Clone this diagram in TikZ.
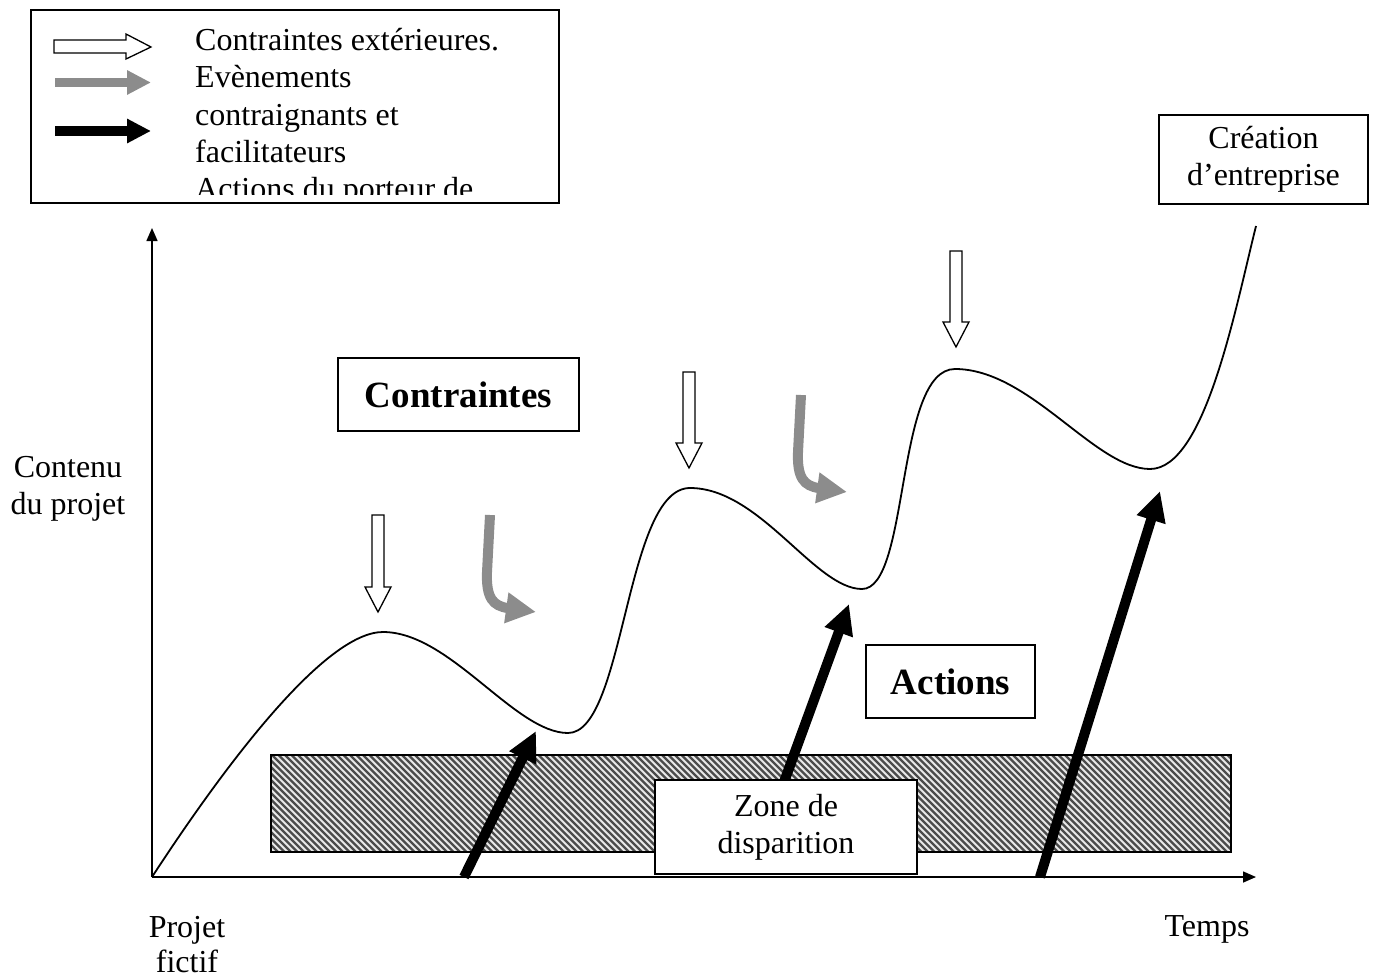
\documentclass[tikz,border=0pt]{standalone}
\usepackage{fontspec}
\setmainfont{Liberation Serif}
\usetikzlibrary{arrows.meta}
\definecolor{evgray}{RGB}{140,140,140}
\definecolor{hatchgray}{RGB}{75,75,75}
\definecolor{hatchbg}{RGB}{232,232,232}
\begin{document}
\begin{tikzpicture}[x=1pt,y=-1pt,
  txt/.style={font=\fontsize{32}{37}\selectfont, inner sep=0pt, align=center},
  linetxt/.style={font=\fontsize{32}{37}\selectfont, inner sep=0pt},
  boldtxt/.style={font=\fontsize{37}{44}\selectfont\bfseries, inner sep=0pt},
  framebox/.style={draw, line width=1.3pt, fill=white},
  hollowarrow/.style={draw, line width=1.3pt, fill=white, line join=miter},
  axisline/.style={line width=1.5pt, -{Triangle[length=13pt,width=11pt]}},
  evarrow/.style={evgray, line width=10pt, -{Triangle[length=30pt,width=29pt]}},
  actarrow/.style={black, line width=10pt, -{Triangle[length=30pt,width=28pt]}},
  curveline/.style={line width=1.8pt}]
\useasboundingbox (0,0) rectangle (1383,979);

% ---------- Legend ----------
\draw[line width=1.3pt] (31,10) rectangle (559,203);
\begin{scope}
  \clip (31,10) rectangle (559,194);
  \node[linetxt, anchor=base west] (l1) at (195,51) {Contraintes extérieures.};
  \node[linetxt, anchor=base west] (l2) at (195,88) {Evènements};
  \node[linetxt, anchor=base west] (l3) at (195,125) {contraignants et};
  \node[linetxt, anchor=base west] (l4) at (195,162) {facilitateurs};
  \node[linetxt, anchor=base west] (l5) at (195,199) {Actions du porteur de};
\end{scope}
% legend arrows
\draw[hollowarrow] (54,40) -- (126,40) -- (126,34) -- (151,47) -- (126,59) -- (126,53) -- (54,53) -- cycle;
\coordinate (ga1) at (55,82.5);
\coordinate (ga2) at (151,82.5);
\draw[evgray, line width=9pt, -{Triangle[length=24pt,width=23pt]}] (ga1) -- (ga2);
\coordinate (ba1) at (55,131);
\coordinate (ba2) at (151,131);
\draw[black, line width=9.5pt, -{Triangle[length=24pt,width=23pt]}] (ba1) -- (ba2);

% ---------- Hatched zone ----------
\begin{scope}
  \clip (271,755) rectangle (1231,852);
  \fill[hatchbg] (271,755) rectangle (1231,852);
  \foreach \x in {168,174.5,...,1236} {
    \draw[hatchgray, line width=2.3pt] (\x,755) -- (\x+97,852);
  }
\end{scope}
\draw[line width=1.3pt] (271,755) rectangle (1231,852);

% ---------- Axes ----------
\coordinate (O) at (152,877);
\coordinate (Ytop) at (152,228);
\coordinate (Xend) at (1256,877);
\draw[axisline] (O) -- (Ytop);
\draw[axisline] (O) -- (Xend);

% ---------- Curve ----------
\draw[curveline] (O)
  .. controls (225,765) and (325,632) .. (383,632)
  .. controls (450,632) and (515,733) .. (568,733)
  .. controls (625,733) and (625,488) .. (690,488)
  .. controls (760,488) and (815,589) .. (862,589)
  .. controls (910,589) and (895,369) .. (955,369)
  .. controls (1030,369) and (1095,469) .. (1150,469)
  .. controls (1205,469) and (1235,310) .. (1256,226);

% ---------- Hollow down arrows ----------
\foreach \cx/\t/\b [count=\i] in {378/515/612, 689/372/468, 956/251/347} {
  \draw[hollowarrow] (\cx-6,\t) -- (\cx+6,\t) -- (\cx+6,\b-25) -- (\cx+13,\b-25)
     -- (\cx,\b) -- (\cx-13,\b-25) -- (\cx-6,\b-25) -- cycle;
}

% ---------- Gray curved arrows ----------
\coordinate (e1s) at (490,515);
\coordinate (e1t) at (536,612);
\draw[evarrow] (e1s) -- (487,572) .. controls (486,598) and (493,606) .. (e1t);
\coordinate (e2s) at (801,395);
\coordinate (e2t) at (847,492);
\draw[evarrow] (e2s) -- (798,452) .. controls (797,478) and (804,486) .. (e2t);

% ---------- Black action arrows ----------
\coordinate (a1s) at (464,877);
\coordinate (a1t) at (536,731);
\draw[actarrow] (a1s) -- (a1t);
\coordinate (a2s) at (784,782);
\coordinate (a2t) at (849,604);
\draw[actarrow] (a2s) -- (a2t);
\coordinate (a3s) at (1040,877);
\coordinate (a3t) at (1160,491);
\draw[actarrow] (a3s) -- (a3t);

% ---------- Boxes ----------
\node[framebox, minimum width=262pt, minimum height=94pt, txt] (zone) at (786,827) {Zone de\\disparition};
\node[framebox, minimum width=241pt, minimum height=73pt, boldtxt] (contr) at (458.5,394.5) {Contraintes};
\node[framebox, minimum width=169pt, minimum height=73pt, boldtxt] (act) at (950.5,681.5) {Actions};
\node[framebox, minimum width=209pt, minimum height=89pt, txt] (crea) at (1263.5,159.5) {Création\\d’entreprise};

% ---------- Labels ----------
\node[txt] (yl) at (68,489) {Contenu\\du projet};
\node[linetxt, anchor=base] (pf1) at (187,937) {Projet};
\node[linetxt, anchor=base] (pf2) at (187,972) {fictif};
\node[linetxt] (tm) at (1207,929) {Temps};
\end{tikzpicture}
\end{document}
